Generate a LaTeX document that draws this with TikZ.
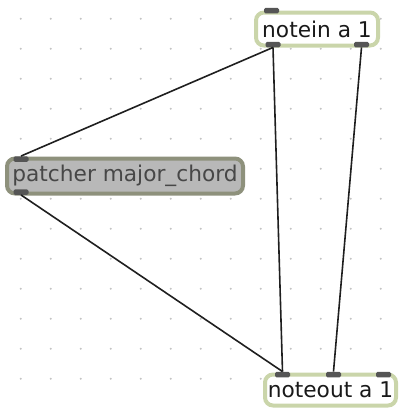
\documentclass[tikz,border=0pt]{standalone}
\usepackage{fontspec}
\setmainfont{DejaVu Sans}
\usepackage{xcolor}
\usetikzlibrary{positioning}

\definecolor{objborder}{HTML}{CAD5AA}
\definecolor{subborder}{HTML}{8E917C}
\definecolor{subfill}{HTML}{B8B8B8}
\definecolor{portgray}{HTML}{555555}
\definecolor{griddot}{HTML}{C4C4C4}

\begin{document}
\begin{tikzpicture}[x=1pt, y=-1pt,
    obj/.style={draw=objborder, line width=4pt, rounded corners=8pt, fill=white,
        inner sep=0pt, font=\fontsize{21.7}{24}\selectfont, text=black!90},
    subpatch/.style={obj, draw=subborder, fill=subfill, text=black!72},
    port/.style={fill=portgray, rounded corners=1.5pt, minimum width=15pt,
        minimum height=5.5pt, inner sep=0pt},
    patchcord/.style={line width=1.6pt, draw=black!88}]
    \useasboundingbox (0,0) rectangle (401,408);

    % grid
    \foreach \i in {0,...,12}
        \foreach \j in {0,...,12}
            \fill[griddot] (20.7+30*\i, 18.7+30*\j) circle (1.1pt);

    \node (notein) [obj, minimum width=122pt, minimum height=33pt] at (317, 29) {notein a 1};
    \node (patcher) [subpatch, minimum width=236pt, minimum height=35pt] at (125, 176) {patcher major\_chord};
    \node (noteout) [obj, minimum width=131pt, minimum height=31pt] at (330.5, 390) {noteout a 1};

    % inlets and outlets
    \node (notein-in0) [port] at (271.5, 10.5) {};
    \node (notein-out0) [port] at (273, 44.5) {};
    \node (notein-out1) [port] at (361.5, 44.5) {};
    \node (patcher-in0) [port] at (21, 159) {};
    \node (patcher-out0) [port] at (21, 192) {};
    \node (noteout-in0) [port] at (282.5, 374.5) {};
    \node (noteout-in1) [port] at (333.5, 374.5) {};
    \node (noteout-in2) [port] at (383.5, 374.5) {};

    \draw[patchcord] (notein-out0.south) -- (patcher-in0.north);
    \draw[patchcord] (notein-out0.south) -- (noteout-in0.north);
    \draw[patchcord] (notein-out1.south) -- (noteout-in1.north);
    \draw[patchcord] (patcher-out0.south) -- (noteout-in0.north);
\end{tikzpicture}
\end{document}
